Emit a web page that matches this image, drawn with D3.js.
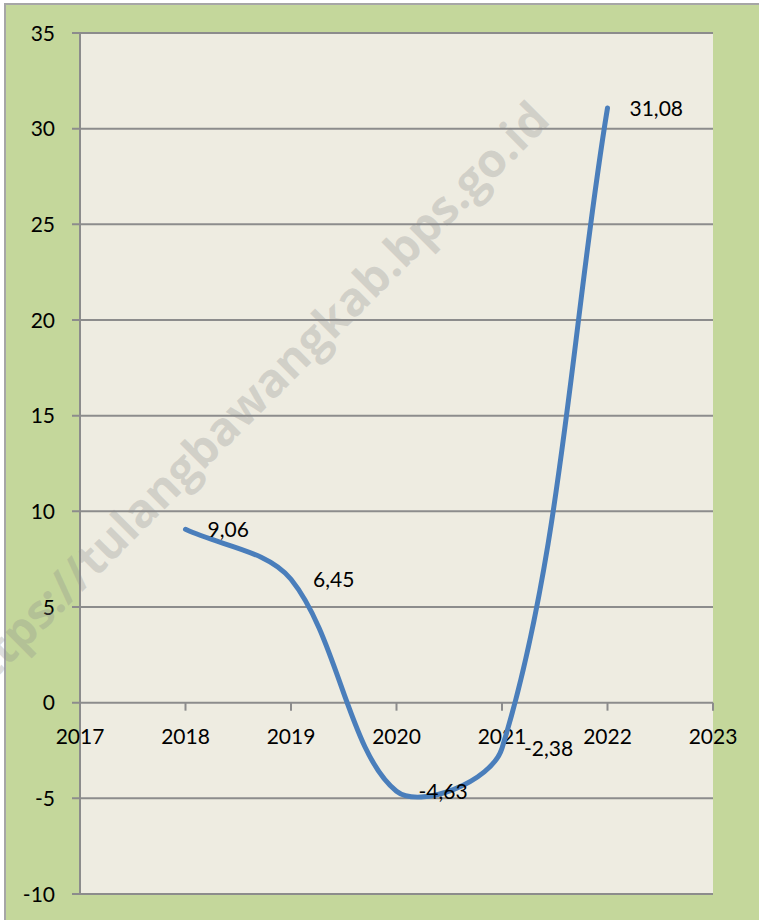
<!DOCTYPE html>
<html>
<head>
<meta charset="utf-8">
<script src="https://cdn.jsdelivr.net/npm/d3@7"></script>
<style>
  body { margin: 0; background: #fff; }
  text { font-family: Lato, "Open Sans", sans-serif; fill: #000; }
</style>
</head>
<body>
<div id="chart"></div>
<script>
// data
var years = [2018, 2019, 2020, 2021, 2022];
var values = [9.06, 6.45, -4.63, -2.38, 31.08];
var xTicks = [2017, 2018, 2019, 2020, 2021, 2022, 2023];
var yTicks = [-10, -5, 0, 5, 10, 15, 20, 25, 30, 35];
var watermark = "https://tulangbawangkab.bps.go.id";

var W = 759, H = 920;
var margin = {left: 80, right: 713, top: 33, bottom: 894};

var idLocale = d3.formatLocale({decimal: ",", thousands: ".", grouping: [3], currency: ["", ""], minus: "-"});
var fmt = idLocale.format(".2f");

var x = d3.scaleLinear().domain([2017, 2023]).range([margin.left, margin.right]);
var y = d3.scaleLinear().domain([-10, 35]).range([margin.bottom, margin.top]);

var svg = d3.select("#chart").append("svg")
    .attr("width", W)
    .attr("height", H);

// chart area background + outer border
svg.append("rect")
    .attr("x", 5).attr("y", 4)
    .attr("width", W + 10).attr("height", H + 10)
    .attr("fill", "#c4d79b")
    .attr("stroke", "#a6a6a6")
    .attr("stroke-width", 2);

// plot area
svg.append("rect")
    .attr("x", margin.left).attr("y", margin.top)
    .attr("width", margin.right - margin.left).attr("height", margin.bottom - margin.top)
    .attr("fill", "#eeece1");

// horizontal gridlines with tick stubs
svg.append("g").selectAll("line")
    .data(yTicks)
    .enter().append("line")
    .attr("x1", margin.left - 8).attr("x2", margin.right)
    .attr("y1", function(d) { return y(d); })
    .attr("y2", function(d) { return y(d); })
    .attr("stroke", "#8c8c8c")
    .attr("stroke-width", 2);

// y axis line
svg.append("line")
    .attr("x1", margin.left).attr("x2", margin.left)
    .attr("y1", margin.top).attr("y2", margin.bottom + 1)
    .attr("stroke", "#8c8c8c")
    .attr("stroke-width", 2);

// y labels
svg.append("g").selectAll("text")
    .data(yTicks)
    .enter().append("text")
    .attr("x", 55)
    .attr("y", function(d) { return y(d); })
    .attr("dy", "0.36em")
    .attr("text-anchor", "end")
    .style("font-size", "21px")
    .text(function(d) { return d; });

// x tick marks along the zero line
svg.append("g").selectAll("line")
    .data(xTicks)
    .enter().append("line")
    .attr("x1", function(d) { return x(d); })
    .attr("x2", function(d) { return x(d); })
    .attr("y1", y(0)).attr("y2", y(0) + 8)
    .attr("stroke", "#8c8c8c")
    .attr("stroke-width", 2);

// watermark
svg.append("text")
    .attr("transform", "translate(552,122) rotate(-45)")
    .attr("text-anchor", "end")
    .style("font-size", "47px")
    .style("font-weight", "bold")
    .style("font-family", "'Open Sans', sans-serif")
    .style("fill", "#8a8a8a")
    .style("fill-opacity", 0.28)
    .text(watermark);

// x labels
svg.append("g").selectAll("text")
    .data(xTicks)
    .enter().append("text")
    .attr("x", function(d) { return x(d); })
    .attr("y", y(0) + 34)
    .attr("dy", "0.36em")
    .attr("text-anchor", "middle")
    .style("font-size", "21px")
    .text(function(d) { return d; });

// smoothed series line, excel style: bezier arms weighted by chord length
var pts = years.map(function(d, i) { return [x(d), y(values[i])]; });
function dist(a, b) { return Math.hypot(b[0] - a[0], b[1] - a[1]); }
var p = d3.path();
p.moveTo(pts[0][0], pts[0][1]);
for (let i = 0; i < pts.length - 1; i++) {
    var p0 = pts[Math.max(i - 1, 0)], p1 = pts[i], p2 = pts[i + 1], p3 = pts[Math.min(i + 2, pts.length - 1)];
    var d01 = dist(p0, p1), d12 = dist(p1, p2), d23 = dist(p2, p3);
    var f1 = d12 / (d01 + d12) / 3, f2 = d12 / (d12 + d23) / 3;
    p.bezierCurveTo(
        p1[0] + (p2[0] - p0[0]) * f1, p1[1] + (p2[1] - p0[1]) * f1,
        p2[0] - (p3[0] - p1[0]) * f2, p2[1] - (p3[1] - p1[1]) * f2,
        p2[0], p2[1]);
}

svg.append("path")
    .attr("d", p.toString())
    .attr("fill", "none")
    .attr("stroke", "#4a7ebb")
    .attr("stroke-width", 5)
    .attr("stroke-linecap", "round")
    .attr("stroke-linejoin", "round");

// data labels
svg.append("g").selectAll("text")
    .data(years)
    .enter().append("text")
    .attr("x", function(d) { return x(d) + 22; })
    .attr("y", function(d, i) { return y(values[i]); })
    .attr("dy", "0.36em")
    .style("font-size", "21px")
    .text(function(d, i) { return fmt(values[i]); });
</script>
</body>
</html>
